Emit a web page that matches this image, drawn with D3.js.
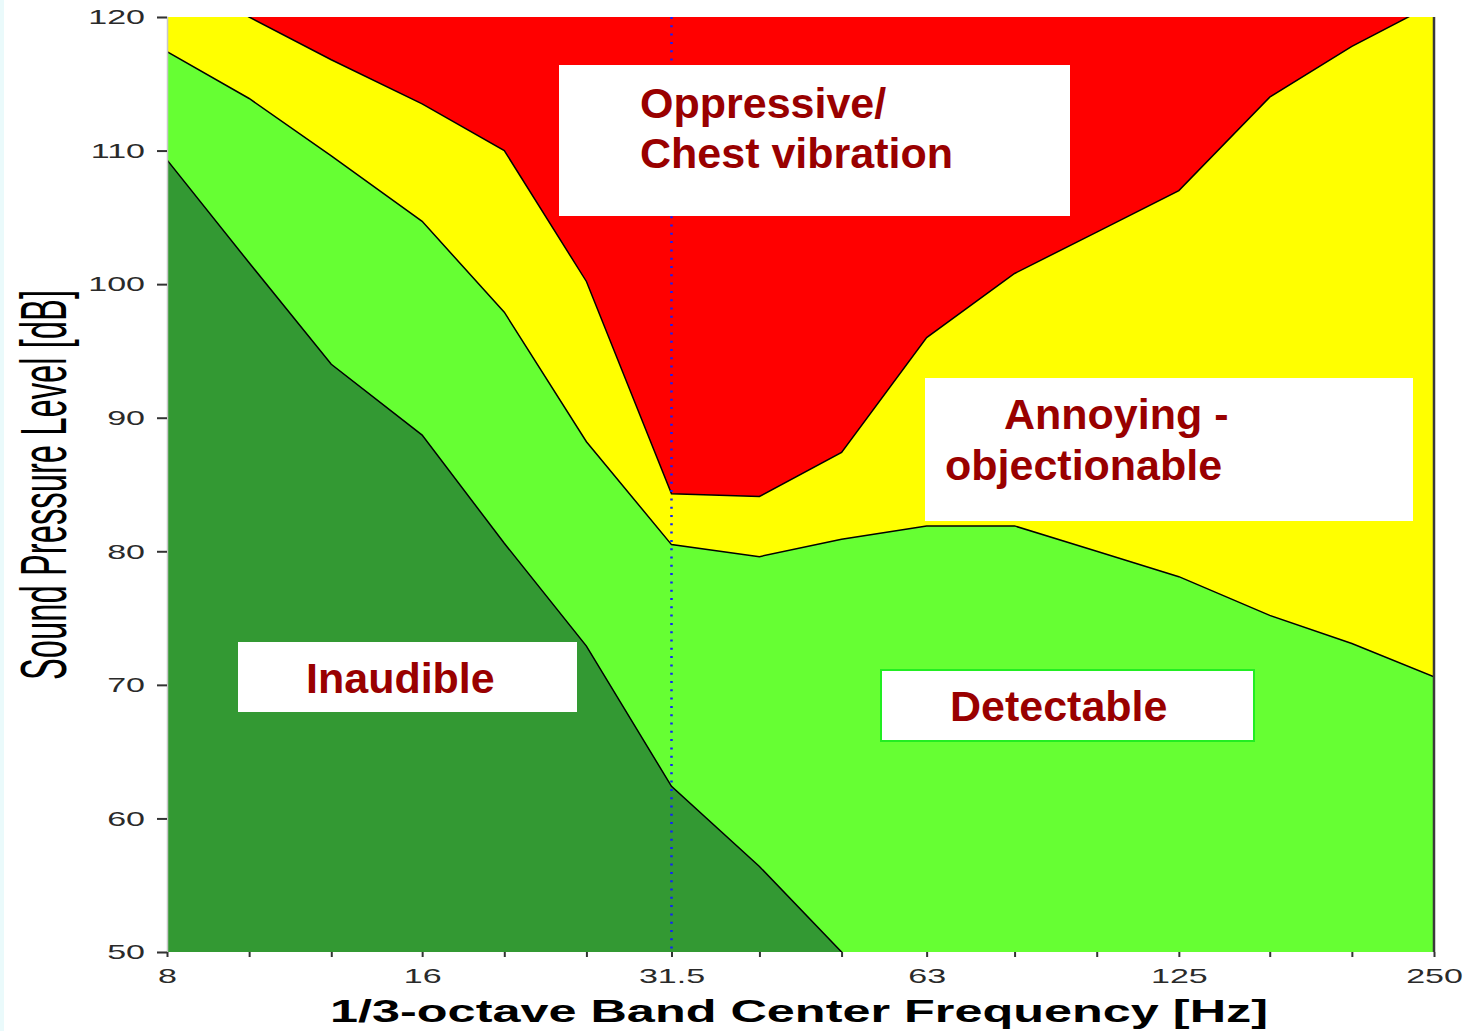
<!DOCTYPE html>
<html>
<head>
<meta charset="utf-8">
<script src="https://cdn.jsdelivr.net/npm/d3@7"></script>
<style>
  body { margin: 0; background: #fff; }
  svg { display: block; }
</style>
</head>
<body>
<script>
// 1/3-octave band centres (Hz) and the boundaries between the zones (dB)
const bands = [8, 10, 12.5, 16, 20, 25, 31.5, 40, 50, 63, 80, 100, 125, 160, 200, 250];
const labelledBands = [8, 16, 31.5, 63, 125, 250];
const yTicks = [50, 60, 70, 80, 90, 100, 110, 120];

// inaudible / detectable (hearing threshold), bands 8..63 Hz
const thresholdFreq = [8, 10, 12.5, 16, 20, 25, 31.5, 40, 50, 63];
const thresholdDb = [109.3, 101.6, 94.0, 88.7, 80.6, 72.9, 62.4, 56.4, 50.0, 43.0];
// detectable / annoying
const annoyDb = [117.4, 113.9, 109.6, 104.7, 97.9, 88.2, 80.5, 79.6, 80.9, 81.9, 81.9, 80.0, 78.1, 75.2, 73.1, 70.6];
// annoying / oppressive
const oppressDb = [123.2, 120.0, 116.8, 113.5, 110.0, 100.2, 84.3, 84.1, 87.4, 96.0, 100.8, 103.9, 107.0, 114.0, 117.8, 121.0];

const zoneLabels = [
  {lines: ["Oppressive/", "Chest vibration"], box: [559, 65, 511, 151], tx: [640, 640], ty: [118, 168], border: null},
  {lines: ["Annoying -", "objectionable"], box: [925, 378, 488, 143], tx: [1004, 945], ty: [429, 480], border: null},
  {lines: ["Inaudible"], box: [238, 642, 339, 70], tx: [306], ty: [693], border: null},
  {lines: ["Detectable"], box: [881, 670, 373, 71], tx: [950], ty: [721], border: "#22ee22"}
];

const width = 1468, height = 1031;
const margin = {top: 17, right: 34, bottom: 79, left: 167};

const svg = d3.select("body").append("svg")
    .attr("width", width)
    .attr("height", height);

// faint strip on the left edge
svg.append("rect").attr("x", 0).attr("y", 0).attr("width", 4).attr("height", height).attr("fill", "#eafafb");

const x = d3.scaleLog()
    .domain([8, 250])
    .range([margin.left, width - margin.right]);
const y = d3.scaleLinear()
    .domain([50, 120])
    .range([height - margin.bottom, margin.top]);

svg.append("clipPath").attr("id", "plot")
  .append("rect")
    .attr("x", x(8)).attr("y", y(120))
    .attr("width", x(250) - x(8)).attr("height", y(50) - y(120));

const plot = svg.append("g").attr("clip-path", "url(#plot)");

const zip = (fs, vs) => fs.map((f, i) => ({f: f, v: vs[i]}));
const area = d3.area().x(d => x(d.f)).y0(y(30)).y1(d => y(d.v));
const line = d3.line().x(d => x(d.f)).y(d => y(d.v));

plot.append("rect")
    .attr("x", x(8)).attr("y", y(120))
    .attr("width", x(250) - x(8)).attr("height", y(50) - y(120))
    .attr("fill", "#ff0000");

plot.append("path").datum(zip(bands, oppressDb)).attr("d", area).attr("fill", "#ffff00");
plot.append("path").datum(zip(bands, annoyDb)).attr("d", area).attr("fill", "#66ff33");
plot.append("path").datum(zip(thresholdFreq, thresholdDb)).attr("d", area).attr("fill", "#339933");

[zip(bands, oppressDb), zip(bands, annoyDb), zip(thresholdFreq, thresholdDb)].forEach(function(d) {
  plot.append("path").datum(d)
      .attr("d", line)
      .attr("fill", "none")
      .attr("stroke", "#000")
      .attr("stroke-width", 1.5);
});

// dotted marker at 31.5 Hz
svg.append("line")
    .attr("x1", x(31.5)).attr("x2", x(31.5))
    .attr("y1", y(120)).attr("y2", y(50))
    .attr("stroke", "#1020ff")
    .attr("stroke-width", 2.5)
    .attr("stroke-dasharray", "2,6.3");

// zone labels
zoneLabels.forEach(function(z) {
  svg.append("rect")
      .attr("x", z.box[0]).attr("y", z.box[1])
      .attr("width", z.box[2]).attr("height", z.box[3])
      .attr("fill", "#fff")
      .attr("stroke", z.border || "none")
      .attr("stroke-width", 2);
  z.lines.forEach(function(t, i) {
    svg.append("text")
        .attr("x", z.tx[i]).attr("y", z.ty[i])
        .attr("font-family", "Liberation Sans, Arial, sans-serif")
        .attr("font-weight", "bold")
        .attr("font-size", 43)
        .attr("fill", "#990000")
        .text(t);
  });
});

// axes
const yAxis = svg.append("g")
    .attr("transform", "translate(" + x(8) + ",0)")
    .call(d3.axisLeft(y).tickValues(yTicks).tickSize(10).tickPadding(12));
yAxis.select(".domain").attr("stroke", "#c8c8c8").attr("stroke-width", 1.5);

const xAxis = svg.append("g")
    .attr("transform", "translate(0," + y(50) + ")")
    .call(d3.axisBottom(x).tickValues(bands).tickSize(5).tickPadding(11)
      .tickFormat(d => labelledBands.includes(d) ? String(d) : ""));
xAxis.select(".domain").remove();

svg.selectAll(".tick line").attr("stroke", "#333").attr("stroke-width", 2);
svg.selectAll(".tick text")
    .attr("font-family", "Liberation Sans, Arial, sans-serif")
    .attr("font-size", 21)
    .attr("fill", "#2a2a2a")
    .each(function() {
      const w = this.getComputedTextLength();
      if (w > 0) d3.select(this).attr("textLength", w * 1.62).attr("lengthAdjust", "spacingAndGlyphs");
    });

// right frame line
svg.append("line")
    .attr("x1", x(250)).attr("x2", x(250))
    .attr("y1", y(120)).attr("y2", y(50))
    .attr("stroke", "#3a3a3a")
    .attr("stroke-width", 2.5);

// axis titles
svg.append("text")
    .attr("x", 799).attr("y", 1022)
    .attr("text-anchor", "middle")
    .attr("font-family", "Liberation Sans, Arial, sans-serif")
    .attr("font-weight", "bold")
    .attr("font-size", 32)
    .attr("textLength", 938)
    .attr("lengthAdjust", "spacingAndGlyphs")
    .text("1/3-octave Band Center Frequency [Hz]");

// tall, condensed y title: normal size text stretched across the baseline
svg.append("text")
    .attr("transform", "translate(66,485) rotate(-90) scale(1,1.94)")
    .attr("text-anchor", "middle")
    .attr("font-family", "Liberation Sans, Arial, sans-serif")
    .attr("font-size", 33)
    .attr("textLength", 390)
    .attr("lengthAdjust", "spacingAndGlyphs")
    .text("Sound Pressure Level [dB]");
</script>
</body>
</html>
